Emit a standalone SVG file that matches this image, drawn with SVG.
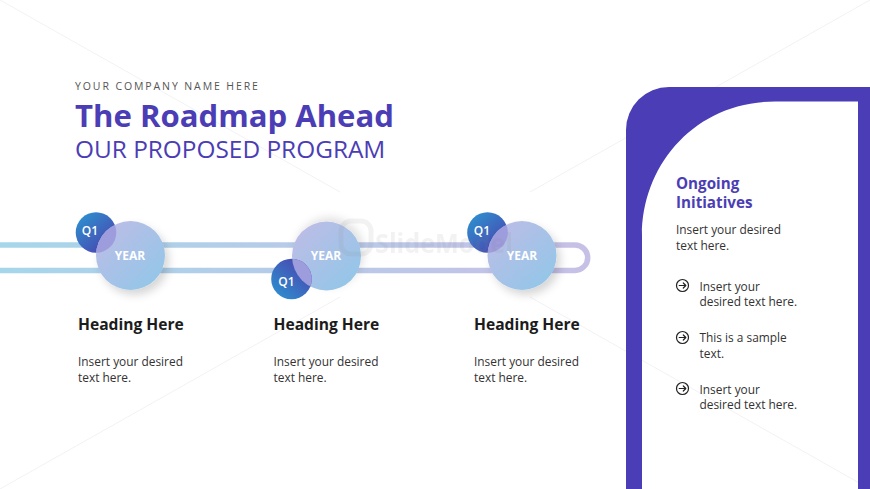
<svg xmlns="http://www.w3.org/2000/svg" width="870" height="489" viewBox="0 0 870 489">
<style>
text{font-family:"Open Sans","Noto Sans","Liberation Sans",sans-serif}
.wm{fill:none;stroke:#f2f2f2;stroke-width:1}
.head{font-size:15.6px;font-weight:700;fill:#1c1c1c}
.body{font-size:11.9px;fill:#333}
.year{font-size:12px;font-weight:700;fill:#fff;text-anchor:middle}
.q{font-size:12px;font-weight:600;fill:#fff;text-anchor:middle}
.lens{fill:#9d9cdc}
.arrow{fill:none;stroke:#222;stroke-width:1.2;stroke-linecap:round;stroke-linejoin:round}
</style>
<defs>
<linearGradient id="track" gradientUnits="userSpaceOnUse" x1="0" y1="0" x2="591" y2="0"><stop offset="0" stop-color="#a6d6ea"/><stop offset="1" stop-color="#c7c0e6"/></linearGradient>
<linearGradient id="big" x1="0.1" y1="0.1" x2="0.85" y2="0.9"><stop offset="0" stop-color="#bcbde6"/><stop offset="1" stop-color="#94c6e8"/></linearGradient>
<linearGradient id="small" x1="0.15" y1="0.1" x2="0.85" y2="0.9"><stop offset="0" stop-color="#2f8ccd"/><stop offset="1" stop-color="#4a45b0"/></linearGradient>
<linearGradient id="small2" x1="0.85" y1="0.1" x2="0.15" y2="0.9"><stop offset="0" stop-color="#4a45b0"/><stop offset="1" stop-color="#2f8ccd"/></linearGradient>
<filter id="sh" x="-30%" y="-30%" width="170%" height="170%"><feDropShadow dx="4" dy="5" stdDeviation="4" flood-color="#000" flood-opacity="0.16"/></filter>
<filter id="sh2" x="-30%" y="-30%" width="170%" height="170%"><feDropShadow dx="3" dy="-4" stdDeviation="4" flood-color="#000" flood-opacity="0.12"/></filter>
<clipPath id="c1"><circle cx="130.500" cy="255.500" r="34.500"/></clipPath>
<clipPath id="c2"><circle cx="326.500" cy="256" r="34.500"/></clipPath>
<clipPath id="c3"><circle cx="522" cy="255.500" r="34.500"/></clipPath>
<path id="arr" class="arrow" d="M-3.300 0H3.200M0.800-2.500L3.300 0L0.800 2.500"/>
</defs>
<rect width="870" height="489" fill="#fff"/>
<g id="watermark-lines">
<path class="wm" d="M0 0L340 192"/><path class="wm" d="M530 192L870 0"/><path class="wm" d="M0 489L340 297"/><path class="wm" d="M530 297L870 489"/>
</g>
<g id="connectors"><path d="M0 245H575a12.700 12.700 0 0 1 0 25.400H0" fill="none" stroke="url(#track)" stroke-width="5.500"/></g>
<g id="header">
<text x="75" y="90" font-size="10.500" letter-spacing="1.900" fill="#555">YOUR COMPANY NAME HERE</text>
<text x="75" y="127" font-size="31.100" font-weight="700" fill="#4b3db5">The Roadmap Ahead</text>
<text x="75" y="158" font-size="24.400" fill="#4b3db5">OUR PROPOSED PROGRAM</text>
</g>
<g id="node-1">
<circle cx="96" cy="232.500" r="20.300" fill="url(#small)"/>
<circle cx="130.500" cy="255.500" r="34.500" fill="url(#big)" filter="url(#sh)"/>
<circle class="lens" cx="96" cy="232.500" r="20.300" clip-path="url(#c1)"/>
<text class="q" x="90" y="234.500">Q1</text><text class="year" x="130" y="259.500">YEAR</text>
<text class="head" x="78" y="330">Heading Here</text>
<text class="body" x="78" y="366">Insert your desired</text><text class="body" x="78" y="382">text here.</text>
</g>
<g id="node-2">
<circle cx="326.500" cy="256" r="34.500" fill="url(#big)" filter="url(#sh2)"/>
<circle cx="291.500" cy="279" r="20.300" fill="url(#small2)"/>
<circle class="lens" cx="291.500" cy="279" r="20.300" clip-path="url(#c2)"/>
<text class="year" x="326" y="259.500">YEAR</text><text class="q" x="286.500" y="286">Q1</text>
<text class="head" x="273.500" y="330">Heading Here</text>
<text class="body" x="273.500" y="366">Insert your desired</text><text class="body" x="273.500" y="382">text here.</text>
</g>
<g id="node-3">
<circle cx="487.500" cy="232.500" r="20.300" fill="url(#small)"/>
<circle cx="522" cy="255.500" r="34.500" fill="url(#big)" filter="url(#sh)"/>
<circle class="lens" cx="487.500" cy="232.500" r="20.300" clip-path="url(#c3)"/>
<text class="q" x="482" y="234.500">Q1</text><text class="year" x="522" y="259.500">YEAR</text>
<text class="head" x="474" y="330">Heading Here</text>
<text class="body" x="474" y="366">Insert your desired</text><text class="body" x="474" y="382">text here.</text>
</g>
<g id="slidemodel-mark" opacity="0.1">
<rect x="341" y="221" width="30" height="33" rx="10" fill="none" stroke="#888" stroke-width="5"/>
<text x="375" y="253" font-size="26" font-weight="700" fill="#888" textLength="138" lengthAdjust="spacingAndGlyphs">SlideModel</text>
</g>
<g id="panel">
<path d="M626 489V130A43 43 0 0 1 669 87H870V489H858V101.500H775C695 101.500 642 165 642 235V489Z" fill="#4b3db5"/>
</g>
<g id="initiatives">
<text x="676" y="189" font-size="15.200" font-weight="700" fill="#4b3db5">Ongoing</text>
<text x="676" y="208" font-size="15.200" font-weight="700" fill="#4b3db5">Initiatives</text>
<text class="body" x="676" y="234">Insert your desired</text><text class="body" x="676" y="249.500">text here.</text>
<g><circle cx="682.500" cy="285.500" r="6" fill="none" stroke="#222" stroke-width="1.200"/><use href="#arr" x="682.500" y="285.500"/></g>
<text class="body" x="699.500" y="290.500">Insert your</text><text class="body" x="699.500" y="306">desired text here.</text>
<g><circle cx="682.500" cy="337.500" r="6" fill="none" stroke="#222" stroke-width="1.200"/><use href="#arr" x="682.500" y="337.500"/></g>
<text class="body" x="699.500" y="342">This is a sample</text><text class="body" x="699.500" y="358">text.</text>
<g><circle cx="682.500" cy="388.500" r="6" fill="none" stroke="#222" stroke-width="1.200"/><use href="#arr" x="682.500" y="388.500"/></g>
<text class="body" x="699.500" y="393.500">Insert your</text><text class="body" x="699.500" y="409">desired text here.</text>
</g>
</svg>
